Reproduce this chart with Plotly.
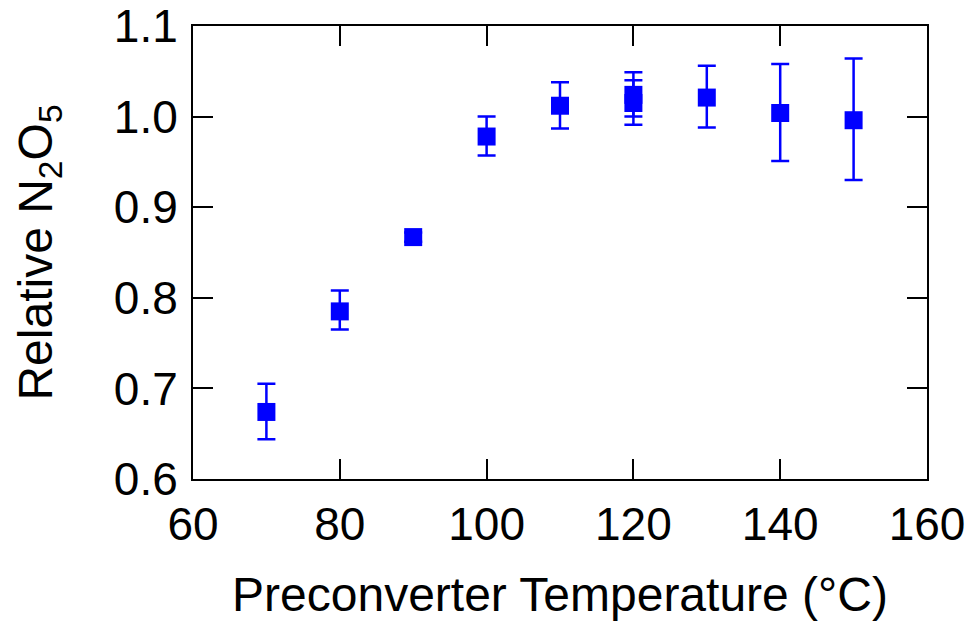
import plotly.graph_objects as go

temperature = [70, 80, 90, 100, 110, 120, 120, 130, 140, 150]
relative_n2o5 = [0.674, 0.785, 0.867, 0.978, 1.012, 1.024, 1.015, 1.021, 1.004, 0.996]
err_plus = [0.031, 0.023, 0.005, 0.022, 0.026, 0.025, 0.025, 0.035, 0.054, 0.068]
err_minus = [0.030, 0.020, 0.005, 0.021, 0.025, 0.024, 0.024, 0.033, 0.053, 0.066]

x_ticks = [60, 80, 100, 120, 140, 160]
y_ticks = [0.6, 0.7, 0.8, 0.9, 1.0, 1.1]

blue = "#0000FF"
font_family = "Liberation Sans, Arial, sans-serif"

fig = go.Figure()
fig.add_trace(go.Scatter(
    x=temperature, y=relative_n2o5, mode="markers",
    marker=dict(symbol="square", size=18, color=blue, line=dict(width=0)),
    error_y=dict(type="data", symmetric=False, array=err_plus, arrayminus=err_minus,
                 color=blue, thickness=2.5, width=9),
    showlegend=False,
))

axis_common = dict(
    showline=True, linecolor="black", linewidth=2, mirror="ticks",
    ticks="inside", ticklen=20, tickwidth=2, tickcolor="black",
    showgrid=False, zeroline=False, automargin=False,
    ticklabeloverflow="allow",
    tickfont=dict(family=font_family, size=46, color="black"),
)

fig.update_layout(
    width=974, height=626,
    margin=dict(l=193, r=47, t=26, b=147),
    paper_bgcolor="white", plot_bgcolor="white",
    font=dict(family=font_family, color="black"),
    xaxis=dict(range=[60, 160], tickvals=x_ticks, ticktext=[str(v) for v in x_ticks],
               title=dict(text="Preconverter Temperature (°C)",
                          font=dict(family=font_family, size=48), standoff=28),
               ticklabelstandoff=4,
               **axis_common),
    yaxis=dict(range=[0.6, 1.1], tickvals=y_ticks, ticktext=[f"{v:.1f}" for v in y_ticks],
               title=dict(text="Relative N<sub>2</sub>O<sub>5</sub>",
                          font=dict(family=font_family, size=48), standoff=46),
               ticklabelstandoff=4,
               **axis_common),
)

fig.write_html("out.html")
